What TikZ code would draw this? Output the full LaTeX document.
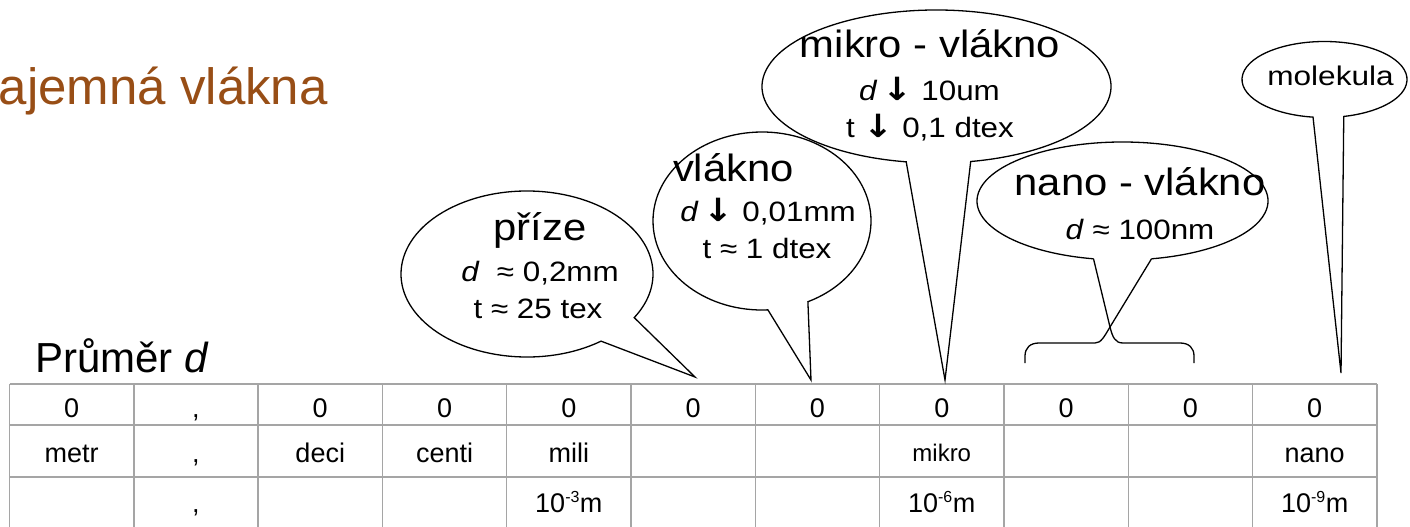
\documentclass[tikz,border=0pt]{standalone}
\usepackage{fontspec}
\setmainfont{Liberation Sans}
\newfontfamily\djv{DejaVu Sans}
\newcommand{\darr}{{\fontsize{32}{30}\djv\bfseries ↓}}
\definecolor{titlebrown}{RGB}{152,78,22}
\definecolor{gridgray}{RGB}{165,165,165}
\begin{document}
\begin{tikzpicture}[x=1pt,y=-1pt,
  callout/.style={draw=black,line width=1.3pt,line join=miter},
  brace/.style={draw=black,line width=1.3pt},
  head/.style={font=\fontsize{38}{40}\selectfont,xscale=1.1,inner sep=0pt,anchor=base},
  sub/.style={font=\fontsize{28}{30}\selectfont,xscale=1.12,inner sep=0pt,anchor=base},
  cell/.style={font=\fontsize{27}{30}\selectfont,inner sep=0pt,anchor=base},
  hline/.style={draw=gridgray,line width=2pt},
  vline/.style={draw=gridgray,line width=1.4pt}]
\useasboundingbox (0,0) rectangle (1410,527);
% title
\node[font=\fontsize{51}{55}\selectfont,text=titlebrown,inner sep=0pt,anchor=base east] (title) at (328,104) {ajemná vlákna};
\node[font=\fontsize{42}{46}\selectfont,inner sep=0pt,anchor=base west] (prumer) at (35,372) {Průměr \textit{d}};
% table grid
\foreach \r in {384,425,477} \draw[hline] (9.5,\r) -- (1377,\r);
\foreach \k in {0,...,11} \draw[vline] ({9.5+124.3*\k},384) -- ({9.5+124.3*\k},530);
% table cells
\foreach \t [count=\k from 0] in {0,{,},0,0,0,0,0,0,0,0,0}
  \node[cell] (r1c\k) at ({9.5+124.3*(\k+0.5)},417) {\t};
\foreach \t [count=\k from 0] in {metr,{,},deci,centi,mili,{},{},{},{},{},nano}
  \node[cell] (r2c\k) at ({9.5+124.3*(\k+0.5)},462) {\t};
\node[cell,font=\fontsize{24}{28}\selectfont] (r2c7) at ({9.5+124.3*7.5},461) {mikro};
\node[cell] (r3c1) at ({9.5+124.3*1.5},512) {,};
\node[cell] (r3c4) at ({9.5+124.3*4.5},512) {10\textsuperscript{\fontsize{16}{18}\selectfont -3}m};
\node[cell] (r3c7) at ({9.5+124.3*7.5},512) {10\textsuperscript{\fontsize{16}{18}\selectfont -6}m};
\node[cell] (r3c10) at ({9.5+124.3*10.5},512) {10\textsuperscript{\fontsize{16}{18}\selectfont -9}m};
% centres and tips
\coordinate (cP) at (527,274);   \coordinate (tP) at (695,377);
\coordinate (cV) at (762,221);   \coordinate (tV) at (811,380);
\coordinate (cM) at (936.5,86.5); \coordinate (tM) at (945,380);
\coordinate (cN) at (1122.5,201); \coordinate (tN) at (1110,327);
\coordinate (cL) at (1324.5,79.5); \coordinate (tL) at (1341,373);
% příze
\draw[callout] (cP) ++(-54:126pt and 83pt) arc[start angle=-54,end angle=-391.7,x radius=126pt,y radius=83pt] -- (tP) -- cycle;
\node[head] (hP) at (540,240) {příze};
\node[sub] (dP) at (540,281) {\textit{d}\ \ ≈ 0,2mm};
\node[sub] (tPt) at (538,318) {t ≈ 25 tex};
% vlákno
\draw[callout] (cV) ++(-86.9:109pt and 89pt) arc[start angle=-86.9,end angle=-425.1,x radius=109pt,y radius=89pt] -- (tV) -- cycle;
\node[head] (hV) at (733.5,181) {vlákno};
\node[sub] (dV) at (768,221) {\textit{d}\,\darr\ 0,01mm};
\node[sub] (tVt) at (767,258) {t ≈ 1 dtex};
% mikro - vlákno
\draw[callout] (cM) ++(-100:174.5pt and 76.5pt) arc[start angle=-100,end angle=-438.7,x radius=174.5pt,y radius=76.5pt] -- (tM) -- cycle;
\node[head] (hM) at (930,58) {mikro - vlákno};
\node[sub] (dM) at (929.5,100) {\textit{d}\,\darr\ 10um};
\node[sub] (tMt) at (930,137) {t \darr\ 0,1 dtex};
% nano - vlákno
\draw[callout] (cN) ++(-101.5:145.5pt and 59pt) arc[start angle=-101.5,end angle=-438.5,x radius=145.5pt,y radius=59pt];
\coordinate (nA) at (1093.5,258.8);
\coordinate (nB) at (1151.5,258.8);
\draw[brace] (nA) -- (tN) .. controls (1112.5,337) and (1115,343) .. (1123,343) -- (1180,343)
  .. controls (1189,343) and (1194,348) .. (1194,356) -- (1194,363);
\draw[brace] (nB) -- (tN) .. controls (1104,337) and (1101,343) .. (1095,343) -- (1039,343)
  .. controls (1030,343) and (1025,348) .. (1025,356) -- (1025,363);
\node[head] (hN) at (1140,195) {nano - vlákno};
\node[sub] (dN) at (1140,239) {\textit{d} ≈ 100nm};
% molekula
\draw[callout] (cL) ++(-98:82.5pt and 38pt) arc[start angle=-98,end angle=-436.5,x radius=82.5pt,y radius=38pt] -- (tL) -- cycle;
\node[font=\fontsize{27}{30}\selectfont,xscale=1.17,inner sep=0pt,anchor=base] (hL) at (1330.5,85) {molekula};
\end{tikzpicture}
\end{document}
